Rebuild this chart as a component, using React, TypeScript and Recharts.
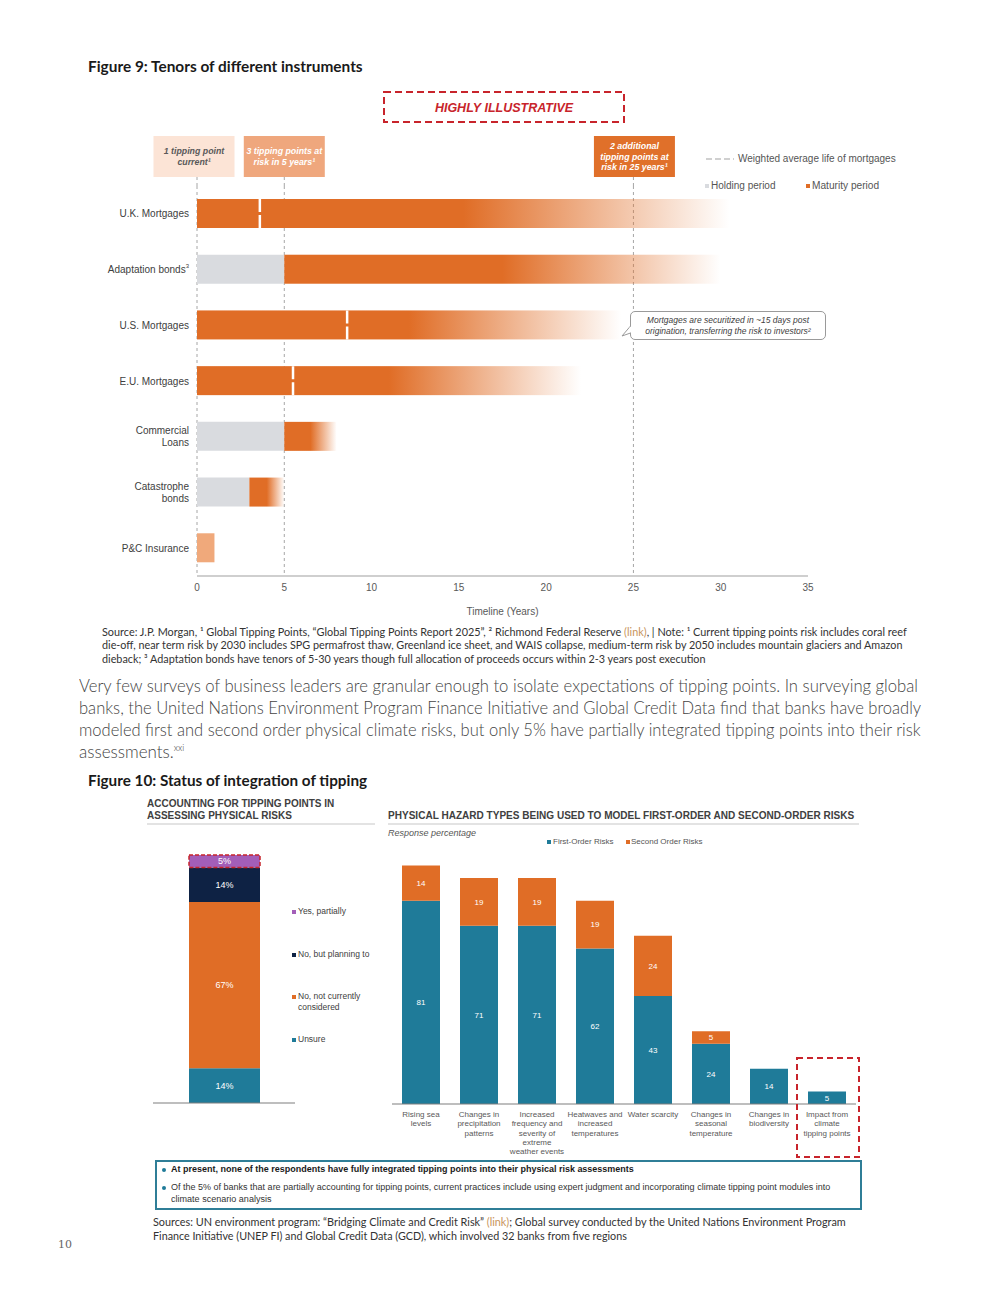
import { useLayoutEffect, useRef, useState } from "react"
import { BarChart, Bar, XAxis, YAxis, ReferenceLine, Cell, LabelList, CartesianGrid } from "recharts"

// Figure 9: tenors of instruments (years)
const instruments = ["U.K. Mortgages", "Adaptation bonds", "U.S. Mortgages", "E.U. Mortgages", "Commercial\nLoans", "Catastrophe\nbonds", "P&C Insurance"]
const instrumentNotes = ["", "3", "", "", "", "", ""]
const holdingYears = [0, 5, 0, 0, 5, 3, 0]
const maturityYears = [30.5, 25, 24.3, 22, 3, 2, 1]
const walYears = [3.6, null, 8.6, 5.5, null, null, null]
const timelineTicks = [0, 5, 10, 15, 20, 25, 30, 35]
const tippingYears = [0, 5, 25]
const tippingLabels = [
  ["1 tipping point", "current¹"],
  ["3 tipping points at", "risk in 5 years¹"],
  ["2 additional", "tipping points at", "risk in 25 years¹"],
]

// Figure 10 left: status of integration (% of banks)
const statusLabels = ["Yes, partially", "No, but planning to", "No, not currently\nconsidered", "Unsure"]
const statusKeys = ["partially", "planning", "notConsidered", "unsure"]
const statusShares = [5, 14, 67, 14]

// Figure 10 right: hazard types (response %)
const hazards = [
  "Rising sea\nlevels",
  "Changes in\nprecipitation\npatterns",
  "Increased\nfrequency and\nseverity of\nextreme\nweather events",
  "Heatwaves and\nincreased\ntemperatures",
  "Water scarcity",
  "Changes in\nseasonal\ntemperature",
  "Changes in\nbiodiversity",
  "Impact from\nclimate\ntipping points",
]
const firstOrder = [81, 71, 71, 62, 43, 24, 14, 5]
const secondOrder = [14, 19, 19, 19, 24, 5, 0, 0]

const ORANGE = "#E06D26"
const HOLD_GREY = "#D9DBDF"
const PC_ORANGE = "#F0A97B"
const TEAL = "#1F7B99"
const NAVY = "#0E2244"
const PURPLE = "#A35EB8"
const RED = "#C8242B"
const statusColors = [PURPLE, NAVY, ORANGE, TEAL]

const ARIAL = "'Liberation Sans', Arial, sans-serif"
const NARROW = "Lato, 'Open Sans', sans-serif"

const tenorData = instruments.map((name, i) => ({
  name,
  holding: holdingYears[i],
  maturity: maturityYears[i],
  wal: walYears[i],
}))

const statusRow: any = { name: "banks" }
statusKeys.forEach((k, i) => (statusRow[k] = statusShares[i]))

const hazardData = hazards.map((name, i) => ({ name, first: firstOrder[i], second: secondOrder[i] }))

// squeezes a line of text to a given width (the original uses a condensed face)
function Fit({ w, children }: any) {
  const ref = useRef<HTMLSpanElement>(null)
  const [k, setK] = useState(1)
  useLayoutEffect(() => {
    const measure = () => {
      const el = ref.current
      if (!el || !w) return
      const natural = el.offsetWidth
      if (natural > 0) setK(w / natural)
    }
    measure()
    ;(document as any).fonts?.ready.then(measure)
  }, [w])
  return (
    <span ref={ref} style={{ display: "inline-block", whiteSpace: "nowrap", transformOrigin: "0 50%", transform: `scaleX(${k})` }}>
      {children}
    </span>
  )
}

function Txt({ x, y, w, size, children, font = NARROW, weight = 400, color = "#333", italic = false }: any) {
  const h = size * 1.4
  return (
    <div
      style={{
        position: "absolute",
        left: x,
        top: y - h / 2,
        height: h,
        lineHeight: `${h}px`,
        fontSize: size,
        fontFamily: font,
        fontWeight: weight,
        color,
        fontStyle: italic ? "italic" : "normal",
        whiteSpace: "nowrap",
      }}
    >
      {w ? <Fit w={w}>{children}</Fit> : children}
    </div>
  )
}

function InstrumentTick({ x, y, payload }: any) {
  const idx = instruments.indexOf(payload.value)
  const lines = String(payload.value).split("\n")
  const note = instrumentNotes[idx]
  const lh = 11.5
  return (
    <text x={x} y={y} textAnchor="end" fontSize={10} fill="#404040" fontFamily={ARIAL}>
      {lines.map((l, i) => (
        <tspan key={i} x={x} dy={i === 0 ? 3.5 - ((lines.length - 1) * lh) / 2 : lh}>
          {l}
        </tspan>
      ))}
      {note ? (
        <tspan dy={-5} fontSize={6}>
          {note}
        </tspan>
      ) : null}
    </text>
  )
}

function MaturityShape(p: any) {
  const { x, y, width, height, fill, payload } = p
  if (!width || width <= 0) return null
  const wal = payload?.wal
  const mx = wal != null ? x + ((wal - payload.holding) / payload.maturity) * width : null
  return (
    <g>
      <rect x={x} y={y} width={width} height={height} fill={fill} />
      {mx != null && (
        <line x1={mx} x2={mx} y1={y} y2={y + height} stroke="#fff" strokeWidth={2.5} strokeDasharray="13 3" />
      )}
    </g>
  )
}

function tippingBox(i: number) {
  const fills = ["#FCE4D6", "#EFA77D", "#E0702A"]
  const colors = ["#595959", "#fff", "#fff"]
  const shift = [-3, 0, 1]
  return (props: any) => {
    const vb = props.viewBox || {}
    const cx = vb.x + shift[i]
    const top = vb.y - 50
    const lines = tippingLabels[i]
    const lh = 10.5
    const mid = top + 20.5
    return (
      <g>
        <rect x={cx - 40.5} y={top} width={81} height={41} fill={fills[i]} />
        <line x1={vb.x} x2={vb.x} y1={top + 41} y2={vb.y} stroke="#A6A6A6" strokeDasharray="3 3" />
        <text textAnchor="middle" fontSize={8.8} fontWeight={700} fontStyle="italic" fill={colors[i]} fontFamily={ARIAL}>
          {lines.map((l, j) => (
            <tspan key={j} x={cx} y={mid + 3 + (j - (lines.length - 1) / 2) * lh}>
              {l}
            </tspan>
          ))}
        </text>
      </g>
    )
  }
}

// dashed guides at the tipping-point years, drawn through the axis scale
function tippingGuides({ xAxis }: any) {
  const s = xAxis?.scale
  if (!s) return []
  const f = typeof s === "function" ? s : s.map ? (v: number) => s.map(v) : s.apply ? (v: number) => s.apply(v) : null
  if (!f) return []
  return tippingYears.map((yr) => f(yr))
}

function HazardTick({ x, y, payload }: any) {
  const lines = String(payload.value).split("\n")
  return (
    <text x={x} y={y} textAnchor="middle" fontSize={8} fill="#595959" fontFamily={ARIAL}>
      {lines.map((l, i) => (
        <tspan key={i} x={x} dy={i === 0 ? 5 : 9.3}>
          {l}
        </tspan>
      ))}
    </text>
  )
}

function TenorChart() {
  return (
    <div style={{ position: "absolute", left: 90, top: 130 }}>
      <BarChart
        width={740}
        height={495}
        data={tenorData}
        layout="vertical"
        margin={{ top: 56, right: 22, bottom: 0, left: 0 }}
        barSize={29}
      >
        <defs>
          <linearGradient id="fadeTail" x1="0" y1="0" x2="1" y2="0">
            <stop offset="0" stopColor={ORANGE} stopOpacity={1} />
            <stop offset="0.5" stopColor={ORANGE} stopOpacity={1} />
            <stop offset="1" stopColor={ORANGE} stopOpacity={0} />
          </linearGradient>
        </defs>
        <CartesianGrid
          horizontal={false}
          stroke="#A6A6A6"
          strokeDasharray="3 3"
          verticalCoordinatesGenerator={tippingGuides}
        />
        <XAxis
          type="number"
          domain={[0, 35]}
          ticks={timelineTicks}
          height={49}
          tickLine={false}
          axisLine={{ stroke: "#BFBFBF", strokeWidth: 1.5 }}
          tick={{ fontSize: 10, fill: "#595959", fontFamily: ARIAL }}
          label={{ value: "Timeline (Years)", position: "insideBottom", offset: 10, fontSize: 10, fill: "#595959", fontFamily: ARIAL }}
        />
        <YAxis
          type="category"
          dataKey="name"
          width={107}
          interval={0}
          axisLine={false}
          tickLine={false}
          tick={<InstrumentTick />}
        />
        <Bar dataKey="holding" stackId="t" fill={HOLD_GREY} isAnimationActive={false} />
        <Bar dataKey="maturity" stackId="t" shape={<MaturityShape />} isAnimationActive={false}>
          {tenorData.map((d, i) => (
            <Cell key={d.name} fill={i === tenorData.length - 1 ? PC_ORANGE : "url(#fadeTail)"} />
          ))}
        </Bar>
        {tippingYears.map((yr, i) => (
          <ReferenceLine key={yr} x={yr} stroke="none" label={tippingBox(i)} />
        ))}
      </BarChart>
    </div>
  )
}

function StatusChart() {
  return (
    <div style={{ position: "absolute", left: 153, top: 850 }}>
      <BarChart width={142} height={254} data={[statusRow]} margin={{ top: 5, right: 0, bottom: 0, left: 0 }} barSize={71}>
        <XAxis dataKey="name" tick={false} tickLine={false} height={1} axisLine={{ stroke: "#7F7F7F", strokeWidth: 1.2 }} />
        <YAxis hide type="number" domain={[0, 100]} />
        {[...statusKeys].reverse().map((k) => {
          const i = statusKeys.indexOf(k)
          const extra = k === "partially" ? { stroke: RED, strokeDasharray: "4 2", strokeWidth: 1.5 } : {}
          return (
            <Bar key={k} dataKey={k} stackId="s" fill={statusColors[i]} isAnimationActive={false} {...extra}>
              <LabelList
                dataKey={k}
                position="center"
                formatter={(v: any) => `${v}%`}
                fill="#fff"
                fontSize={9}
                fontFamily={ARIAL}
              />
            </Bar>
          )
        })}
      </BarChart>
    </div>
  )
}

function HazardChart() {
  return (
    <div style={{ position: "absolute", left: 392, top: 848 }}>
      <BarChart width={464} height={311} data={hazardData} margin={{ top: 5, right: 0, bottom: 0, left: 0 }} barSize={38}>
        <XAxis
          dataKey="name"
          interval={0}
          height={55}
          tickLine={false}
          axisLine={{ stroke: "#7F7F7F", strokeWidth: 1.2 }}
          tick={<HazardTick />}
        />
        <YAxis hide type="number" domain={[0, 100]} />
        <Bar dataKey="first" stackId="h" fill={TEAL} isAnimationActive={false}>
          <LabelList dataKey="first" position="center" fill="#fff" fontSize={8} fontFamily={ARIAL} />
        </Bar>
        <Bar dataKey="second" stackId="h" fill={ORANGE} isAnimationActive={false}>
          <LabelList
            dataKey="second"
            position="center"
            fill="#fff"
            fontSize={8}
            fontFamily={ARIAL}
            formatter={(v: any) => (v > 0 ? v : "")}
          />
        </Bar>
      </BarChart>
    </div>
  )
}

function Square({ x, y, color, size = 4 }: any) {
  return <div style={{ position: "absolute", left: x, top: y - size / 2, width: size, height: size, background: color }} />
}

export default function App() {
  return (
    <div style={{ position: "absolute", left: 0, top: 0, width: 1000, height: 1293, background: "#fff", overflow: "hidden" }}>
      {/* Figure 9 */}
      <Txt x={88} y={66} w={275} size={15} weight={700} color="#1a1a1a">
        Figure 9: Tenors of different instruments
      </Txt>
      <svg style={{ position: "absolute", left: 383, top: 91 }} width={242} height={32}>
        <rect x={1} y={1} width={240} height={30} fill="none" stroke={RED} strokeWidth={2} strokeDasharray="7 4" />
        <text x={121} y={20.5} textAnchor="middle" fontSize={12.5} fontWeight={700} fontStyle="italic" fill={RED} fontFamily={ARIAL}>
          HIGHLY ILLUSTRATIVE
        </text>
      </svg>

      <TenorChart />

      {/* top right legend */}
      <svg style={{ position: "absolute", left: 704, top: 155 }} width={32} height={8}>
        <line x1={2} x2={30} y1={4} y2={4} stroke="#D0D0D0" strokeWidth={2} strokeDasharray="6 3" />
      </svg>
      <Txt x={738} y={159} w={158} size={10} font={ARIAL} color="#555">
        Weighted average life of mortgages
      </Txt>
      <Square x={705} y={186} color={HOLD_GREY} />
      <Txt x={711} y={186} w={65} size={10} font={ARIAL} color="#555">
        Holding period
      </Txt>
      <Square x={806} y={186} color={ORANGE} />
      <Txt x={812} y={186} w={67} size={10} font={ARIAL} color="#555">
        Maturity period
      </Txt>

      {/* callout */}
      <div
        style={{
          position: "absolute",
          left: 630,
          top: 311,
          width: 196,
          height: 29,
          boxSizing: "border-box",
          border: "1px solid #9a9a9a",
          borderRadius: 5,
          background: "#fff",
          fontFamily: ARIAL,
          fontSize: 8.5,
          fontStyle: "italic",
          color: "#404040",
          textAlign: "center",
          lineHeight: "11px",
          paddingTop: 3,
        }}
      >
        Mortgages are securitized in ~15 days post
        <br />
        origination, transferring the risk to investors²
      </div>
      <svg style={{ position: "absolute", left: 620, top: 324 }} width={14} height={16}>
        <polygon points="10.5,2 2,12 10.5,9" fill="#fff" stroke="#9a9a9a" strokeWidth={1} />
        <line x1={10.5} x2={10.5} y1={2.8} y2={8.5} stroke="#fff" strokeWidth={1.5} />
      </svg>

      <Txt x={102} y={632} w={805} size={10.5} color="#333">
        Source: J.P. Morgan, ¹ Global Tipping Points, “Global Tipping Points Report 2025”, ² Richmond Federal Reserve{" "}
        <span style={{ color: "#C8955C" }}>(link)</span>, | Note: ¹ Current tipping points risk includes coral reef
      </Txt>
      <Txt x={102} y={645} w={801} size={10.5} color="#333">
        die-off, near term risk by 2030 includes SPG permafrost thaw, Greenland ice sheet, and WAIS collapse, medium-term risk by 2050 includes mountain glaciers and Amazon
      </Txt>
      <Txt x={102} y={659} w={604} size={10.5} color="#333">
        dieback; ³ Adaptation bonds have tenors of 5-30 years though full allocation of proceeds occurs within 2-3 years post execution
      </Txt>

      {/* body text */}
      <Txt x={79} y={686} w={839} size={17} weight={300} color="#444">
        Very few surveys of business leaders are granular enough to isolate expectations of tipping points. In surveying global
      </Txt>
      <Txt x={79} y={708} w={842} size={17} weight={300} color="#444">
        banks, the United Nations Environment Program Finance Initiative and Global Credit Data find that banks have broadly
      </Txt>
      <Txt x={79} y={730} w={842} size={17} weight={300} color="#444">
        modeled first and second order physical climate risks, but only 5% have partially integrated tipping points into their risk
      </Txt>
      <Txt x={79} y={752} w={105} size={17} weight={300} color="#444">
        assessments.<sup style={{ fontSize: 9, lineHeight: 0, verticalAlign: "7px" }}>xxi</sup>
      </Txt>

      {/* Figure 10 */}
      <Txt x={88} y={780} w={279} size={15} weight={700} color="#1a1a1a">
        Figure 10: Status of integration of tipping
      </Txt>

      <Txt x={147} y={804} w={187} size={10} font={ARIAL} weight={700} color="#404040">
        ACCOUNTING FOR TIPPING POINTS IN
      </Txt>
      <Txt x={147} y={816} w={145} size={10} font={ARIAL} weight={700} color="#404040">
        ASSESSING PHYSICAL RISKS
      </Txt>
      <div style={{ position: "absolute", left: 147, top: 823, width: 228, height: 1.5, background: "#E3E3E3" }} />

      <StatusChart />
      {statusLabels.map((label, i) => {
        const ys = [912, 955, 997, 1040]
        return (
          <div key={label}>
            <Square x={292} y={ys[i]} color={statusColors[i]} />
            {label.split("\n").map((l, j) => (
              <Txt key={j} x={298} y={ys[i] + j * 11} size={8.5} font={ARIAL} color="#404040">
                {l}
              </Txt>
            ))}
          </div>
        )
      })}

      <Txt x={388} y={816} w={466} size={10} font={ARIAL} weight={700} color="#404040">
        PHYSICAL HAZARD TYPES BEING USED TO MODEL FIRST-ORDER AND SECOND-ORDER RISKS
      </Txt>
      <div style={{ position: "absolute", left: 388, top: 823, width: 471, height: 1.5, background: "#E3E3E3" }} />
      <Txt x={388} y={833} size={9} font={ARIAL} italic color="#555">
        Response percentage
      </Txt>
      <Square x={547} y={842} color={TEAL} />
      <Txt x={553} y={842} w={60} size={8} font={ARIAL} color="#555">
        First-Order Risks
      </Txt>
      <Square x={626} y={842} color={ORANGE} />
      <Txt x={631} y={842} w={72} size={8} font={ARIAL} color="#555">
        Second Order Risks
      </Txt>

      <HazardChart />
      <svg style={{ position: "absolute", left: 796, top: 1057 }} width={64} height={101}>
        <rect x={1} y={1} width={62} height={99} fill="none" stroke={RED} strokeWidth={2} strokeDasharray="6 4" />
      </svg>

      {/* notes box */}
      <div
        style={{
          position: "absolute",
          left: 155,
          top: 1160,
          width: 707,
          height: 50,
          boxSizing: "border-box",
          border: "2px solid #2F7E97",
        }}
      />
      <div style={{ position: "absolute", left: 162, top: 1168, width: 4, height: 4, borderRadius: 2, background: TEAL }} />
      <Txt x={171} y={1170} w={463} size={8.5} font={ARIAL} weight={700} color="#1a1a1a">
        At present, none of the respondents have fully integrated tipping points into their physical risk assessments
      </Txt>
      <div style={{ position: "absolute", left: 162, top: 1186, width: 4, height: 4, borderRadius: 2, background: TEAL }} />
      <Txt x={171} y={1188} w={659} size={8.5} font={ARIAL} color="#333">
        Of the 5% of banks that are partially accounting for tipping points, current practices include using expert judgment and incorporating climate tipping point modules into
      </Txt>
      <Txt x={171} y={1200} w={100} size={8.5} font={ARIAL} color="#333">
        climate scenario analysis
      </Txt>

      <Txt x={153} y={1222} w={693} size={10.5} color="#333">
        Sources: UN environment program: “Bridging Climate and Credit Risk” <span style={{ color: "#C8955C" }}>(link)</span>; Global survey conducted by the United Nations Environment Program
      </Txt>
      <Txt x={153} y={1236} w={474} size={10.5} color="#333">
        Finance Initiative (UNEP FI) and Global Credit Data (GCD), which involved 32 banks from five regions
      </Txt>

      <Txt x={58} y={1245} size={11} color="#666" font="'DejaVu Serif', serif">
        10
      </Txt>
    </div>
  )
}
